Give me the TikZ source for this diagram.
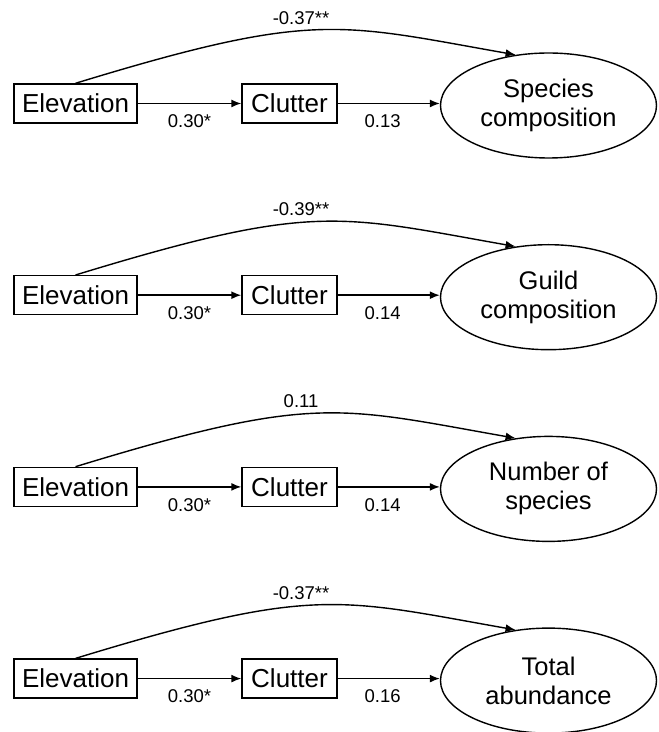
\documentclass[tikz,border=0pt]{standalone}
\usepackage{fontspec}
\setmainfont{Liberation Sans}
\usetikzlibrary{arrows.meta,shapes.geometric}
\begin{document}
\begin{tikzpicture}[x=1pt,y=1pt,
  boxnode/.style={draw,line width=1.4pt,minimum height=39pt,inner sep=0pt,font=\fontsize{26}{28}\selectfont},
  ellnode/.style={draw,ellipse,line width=1.4pt,minimum width=216pt,minimum height=105pt,inner sep=0pt,align=center,font=\fontsize{25.5}{29}\selectfont},
  arr/.style={line width=1.4pt,-{Latex[length=10pt,width=8pt]}},
  lbl/.style={font=\fontsize{18.5}{20}\selectfont,inner sep=0pt}]
\useasboundingbox (0,0) rectangle (659,732);
\foreach \k/\txt/\toplab/\cl in {0/{Species\\composition}/{-0.37**}/0.13,
                                   1/{Guild\\composition}/{-0.39**}/0.14,
                                   2/{Number of\\species}/{0.11}/0.14,
                                   3/{Total\\abundance}/{-0.37**}/0.16}{
  \pgfmathsetmacro\yy{732-103.5-191.7*\k}
  \node[boxnode,minimum width=123pt] (e\k) at (75.5,\yy) {Elevation};
  \node[boxnode,minimum width=95pt] (c\k) at (289.5,\yy) {Clutter};
  \node[ellnode] (s\k) at (548.5,\yy-2) {\txt};
  \draw[arr] (e\k.east) -- node[lbl,pos=0.5,yshift=-18pt]{0.30*} (c\k.west);
  \draw[arr] (c\k.east) -- node[lbl,pos=0.44,yshift=-18pt]{\cl} (c\k.east -| s\k.west);
  \draw[arr] (e\k.north) .. controls +(17:250) and +(170:180) .. node[lbl,pos=0.45,yshift=13pt]{\toplab} (s\k.123);
}
\end{tikzpicture}
\end{document}
